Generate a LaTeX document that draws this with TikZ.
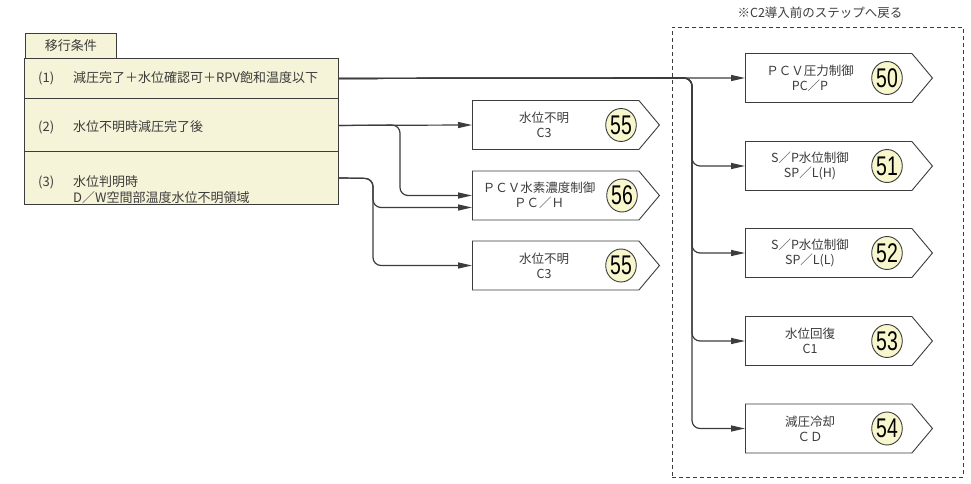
\documentclass[tikz,border=0pt]{standalone}
\usepackage{fontspec}
\usepackage{graphicx}
\setmainfont{Noto Sans CJK JP}
\newfontfamily\numfont{Liberation Sans}
\usetikzlibrary{shapes.symbols,shapes.geometric,arrows.meta}
\definecolor{ink}{HTML}{3C3C3C}
\definecolor{condfill}{HTML}{F6F4D8}
\definecolor{numfill}{HTML}{F8F6CC}
\newcommand\circnum[1]{{\numfont\fontsize{27}{27}\selectfont\scalebox{0.72}[1]{#1}}}
\tikzset{
  condrow/.style={draw=ink, line width=0.9pt, fill=condfill, anchor=north west, minimum width=314pt, inner sep=0pt},
  condtext/.style={anchor=west, inner sep=0pt, align=left, text=ink},
  stepbox/.style={shape=signal, signal to=east, signal pointer angle=100, draw=ink, line width=0.9pt, fill=white, minimum width=187pt, minimum height=49pt, inner sep=0pt, anchor=west},
  boxtext/.style={align=center, inner sep=0pt, text=ink, font=\fontsize{12.5}{15}\selectfont},
  numc/.style={ellipse, draw=ink, line width=0.9pt, fill=numfill, minimum width=29pt, minimum height=33pt, inner sep=0pt, text=black},
  conn/.style={draw=ink, line width=1.2pt, -{Triangle[length=14pt,width=6pt]}},
  rc/.style={rounded corners=8pt}
}
\begin{document}
\begin{tikzpicture}[x=1pt,y=-1pt,font=\fontsize{13}{15.5}\selectfont]
\useasboundingbox (0,0) rectangle (971,484);
\fill[white] (0,0) rectangle (971,484);

% condition table
\node[draw=ink, line width=0.9pt, fill=condfill, anchor=north west, minimum width=91pt, minimum height=25pt, inner sep=0pt, text=ink] (tab) at (25,33) {移行条件};
\node[condrow, minimum height=40pt] (r1) at (24,58) {};
\node[condrow, minimum height=54pt] (r2) at (24,98) {};
\node[condrow, minimum height=53pt] (r3) at (24,151) {};
\node[condtext] (c1n) at (38,78) {(1)};
\node[condtext] (c1t) at (73,78) {減圧完了＋水位確認可＋RPV飽和温度以下};
\node[condtext] (c2n) at (38,127) {(2)};
\node[condtext] (c2t) at (73,127) {水位不明時減圧完了後};
\node[condtext] (c3n) at (38,182) {(3)};
\node[condtext, align=left] (c3t) at (73,189.5) {水位判明時\\D／W空間部温度水位不明領域};

% dashed frame and caption
\node[draw=ink, line width=0.9pt, dash pattern=on 4pt off 3pt, anchor=north west, minimum width=291pt, minimum height=450pt, inner sep=0pt] (frame) at (672,27) {};
\node[text=ink, font=\fontsize{12.5}{14}\selectfont] (cap) at (820,13) {※C2導入前のステップへ戻る};

% middle boxes
\node[stepbox] (b55a) at (472,125) {};
\node[stepbox] (b56) at (472,195.5) {};
\node[stepbox] (b55b) at (472,265.5) {};
\node[boxtext] (t55a) at ([xshift=72pt]b55a.west) {水位不明\\C3};
\node[boxtext] (t56) at ([xshift=67pt]b56.west) {ＰＣＶ水素濃度制御\\ＰＣ／Ｈ};
\node[boxtext] (t55b) at ([xshift=72pt]b55b.west) {水位不明\\C3};
\node[numc] (n55a) at ([xshift=149pt]b55a.west) {\circnum{55}};
\node[numc] (n56) at ([xshift=150pt]b56.west) {\circnum{56}};
\node[numc] (n55b) at ([xshift=149pt]b55b.west) {\circnum{55}};

% right boxes
\node[stepbox] (b50) at (745,78) {};
\node[stepbox] (b51) at (745,166) {};
\node[stepbox] (b52) at (745,253) {};
\node[stepbox] (b53) at (745,341) {};
\node[stepbox] (b54) at (745,428.5) {};
\node[boxtext] (t50) at ([xshift=65pt]b50.west) {ＰＣＶ圧力制御\\PC／P};
\node[boxtext] (t51) at ([xshift=65pt]b51.west) {S／P水位制御\\SP／L(H)};
\node[boxtext] (t52) at ([xshift=65pt]b52.west) {S／P水位制御\\SP／L(L)};
\node[boxtext] (t53) at ([xshift=65pt]b53.west) {水位回復\\C1};
\node[boxtext] (t54) at ([xshift=65pt]b54.west) {減圧冷却\\ＣＤ};
\node[numc] (n50) at ([xshift=142pt]b50.west) {\circnum{50}};
\node[numc] (n51) at ([xshift=142pt]b51.west) {\circnum{51}};
\node[numc] (n52) at ([xshift=142pt]b52.west) {\circnum{52}};
\node[numc] (n53) at ([xshift=142pt]b53.west) {\circnum{53}};
\node[numc] (n54) at ([xshift=142pt]b54.west) {\circnum{54}};

% connectors
\coordinate (j1) at (692,78);
\coordinate (j2) at (400,125);
\coordinate (j3) at (373,178.5);
\draw[conn] (r1.east) -- (b50.west);
\draw[conn, rc] (r1.east) -- (j1) |- (b51.west);
\draw[conn, rc] (r1.east) -- (j1) |- (b52.west);
\draw[conn, rc] (r1.east) -- (j1) |- (b53.west);
\draw[conn, rc] (r1.east) -- (j1) |- (b54.west);
\draw[conn] (r2.east) -- (b55a.west);
\draw[conn, rc] (r2.east) -- (j2) |- (b56.west);
\draw[conn, rc] (r3.east) -- (j3) |- ([yshift=-12pt]b56.west);
\draw[conn, rc] (r3.east) -- (j3) |- (b55b.west);
\end{tikzpicture}
\end{document}
